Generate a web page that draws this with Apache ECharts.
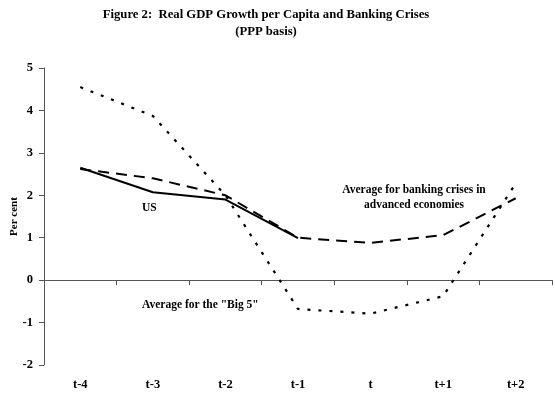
<!DOCTYPE html>
<html><head><meta charset="utf-8">
<script src="https://cdn.jsdelivr.net/npm/echarts@6/dist/echarts.min.js"></script>
<style>html,body{margin:0;padding:0;background:#fff}#c{width:555px;height:394px}</style>
</head><body><div id="c"></div>
<script>
const categories = ['t-4','t-3','t-2','t-1','t','t+1','t+2'];
const usValues = [2.65, 2.07, 1.90, 0.99, null, null, null];
const advancedValues = [2.62, 2.40, 2.00, 1.00, 0.88, 1.06, 1.93];
const big5Values = [4.55, 3.87, 2.00, -0.68, -0.79, -0.38, 2.28];
const yTicks = [-2, -1, 0, 1, 2, 3, 4, 5];

const font = '"Liberation Serif", "DejaVu Serif", serif';
const chart = echarts.init(document.getElementById('c'));
chart.setOption({
  animation: false,
  backgroundColor: '#fff',
  title: {
    text: 'Figure 2:  Real GDP Growth per Capita and Banking Crises\n(PPP basis)',
    left: 261, top: 1, textAlign: 'center',
    textStyle: {fontFamily: font, fontWeight: 'bold', fontSize: 12.7, color: '#000', lineHeight: 17}
  },
  grid: {left: 44, right: 3, top: 68, bottom: 29, containLabel: false, outerBoundsMode: 'none'},
  xAxis: {
    type: 'category', data: categories, boundaryGap: true,
    axisLine: {lineStyle: {color: '#555', width: 1}},
    axisTick: {show: true, length: 5, lineStyle: {color: '#555'}},
    axisLabel: {fontFamily: font, fontWeight: 'bold', fontSize: 12.5, color: '#000', margin: 13}
  },
  yAxis: {
    type: 'value', min: yTicks[0], max: yTicks[yTicks.length-1], interval: 1,
    name: 'Per cent', nameLocation: 'middle', nameGap: 24, nameRotate: 90, nameMoveOverlap: false,
    nameTextStyle: {fontFamily: font, fontWeight: 'bold', fontSize: 11, color: '#000'},
    axisLine: {show: true, lineStyle: {color: '#555', width: 1}},
    axisTick: {show: true, length: 5, lineStyle: {color: '#555'}},
    splitLine: {show: false},
    axisLabel: {fontFamily: font, fontWeight: 'bold', fontSize: 12.5, color: '#000', margin: 11}
  },
  series: [
    {name: 'US', type: 'line', data: usValues, symbol: 'none', lineStyle: {color: '#000', width: 2}},
    {name: 'Advanced', type: 'line', data: advancedValues, symbol: 'none',
     lineStyle: {color: '#000', width: 2, type: [11, 7]}},
    {name: 'Big 5', type: 'line', data: big5Values, symbol: 'none',
     lineStyle: {color: '#000', width: 2.2, type: [3, 8]}}
  ],
  graphic: [
    {type: 'text', x: 142, y: 202, style: {text: 'US', font: 'bold 11.5px ' + font, fill: '#000'}},
    {type: 'text', x: 414, y: 183, style: {text: 'Average for banking crises in\nadvanced economies', font: 'bold 11.5px ' + font, fill: '#000', align: 'center', lineHeight: 15}},
    {type: 'text', x: 142, y: 299, style: {text: 'Average for the "Big 5"', font: 'bold 11.5px ' + font, fill: '#000'}}
  ]
});
</script></body></html>
